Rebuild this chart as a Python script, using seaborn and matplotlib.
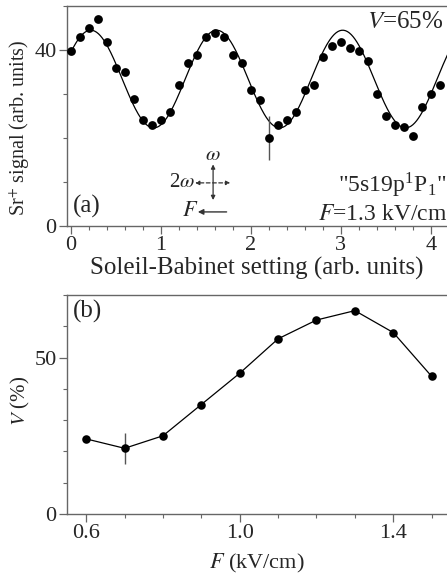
import numpy as np
import pandas as pd
import seaborn as sns
from matplotlib import pyplot as plt
from matplotlib.ticker import MultipleLocator

# panel (a): Sr+ signal vs Soleil-Babinet setting
sb_setting = [0.0, 0.1, 0.2, 0.3, 0.4, 0.5, 0.6, 0.7, 0.8, 0.9,
              1.0, 1.1, 1.2, 1.3, 1.4, 1.5, 1.6, 1.7, 1.8, 1.9,
              2.0, 2.1, 2.2, 2.3, 2.4, 2.5, 2.6, 2.7, 2.8, 2.9,
              3.0, 3.1, 3.2, 3.3, 3.4, 3.5, 3.6, 3.7, 3.8, 3.9,
              4.0, 4.1]
sr_signal = [39.8, 43.0, 44.9, 47.0, 41.9, 35.9, 34.9, 28.9, 24.0, 23.0,
             24.0, 26.0, 32.0, 37.0, 38.9, 43.0, 43.9, 43.0, 38.9, 37.0,
             30.9, 28.6, 20.0, 23.0, 24.0, 26.0, 30.9, 32.0, 38.4, 41.0,
             41.9, 40.5, 39.8, 37.4, 29.9, 25.0, 23.0, 22.4, 20.5, 27.0,
             29.9, 32.0]
err_x_a = [2.2]
err_y_a = [20.0]
err_a = [5.0]

# fitted cosine: mean, amplitude, period, phase (peak position)
fit_mean = 33.4
fit_amp = 11.1
fit_period = 1.4
fit_peak = 0.22

# panel (b): visibility vs field
field = [0.6, 0.7, 0.8, 0.9, 1.0, 1.1, 1.2, 1.3, 1.4, 1.5]
visibility = [24, 21, 25, 35, 45, 56, 62, 65, 58, 44]
err_x_b = [0.7]
err_y_b = [21]
err_b = [5.0]

sns.set_theme(style="ticks")
plt.rcParams['font.family'] = ['Liberation Serif', 'DejaVu Serif']
plt.rcParams['mathtext.fontset'] = 'stix'
plt.rcParams['xtick.direction'] = 'out'
plt.rcParams['ytick.direction'] = 'out'

spine_col = '#666666'
arrow_col = '#333333'

fig = plt.figure(figsize=(4.47, 5.8), dpi=100)
ax1 = fig.add_axes([67 / 447, 1 - 226 / 580, 1 - 67 / 447, 220 / 580])
ax2 = fig.add_axes([67 / 447, 1 - 514 / 580, 1 - 67 / 447, 219 / 580])

# ---- panel (a)
df_a = pd.DataFrame({"x": sb_setting, "y": sr_signal})
xfit = np.linspace(0, 4.2, 400)
df_fit = pd.DataFrame({"x": xfit,
                       "y": fit_mean + fit_amp * np.cos(2 * np.pi * (xfit - fit_peak) / fit_period)})
sns.lineplot(data=df_fit, x="x", y="y", ax=ax1, color="black", linewidth=0.9)
ax1.errorbar(err_x_a, err_y_a, yerr=err_a, fmt="none", ecolor="#555555", elinewidth=1.0, capsize=0)
sns.scatterplot(data=df_a, x="x", y="y", ax=ax1, color="black", s=40, edgecolor="black", linewidth=0, zorder=3)

ax1.set_xlim(-0.044, 4.18)
ax1.set_ylim(0, 50)
ax1.set_xticks([0, 1, 2, 3, 4])
ax1.xaxis.set_minor_locator(MultipleLocator(0.2))
ax1.set_yticks([0, 40])
ax1.yaxis.set_minor_locator(MultipleLocator(10))
ax1.set_xlabel("Soleil-Babinet setting (arb. units)", fontsize=18, labelpad=1)
ax1.set_ylabel("Sr$^{+}$ signal (arb. units)", fontsize=14.5)
ax1.yaxis.set_label_coords(-0.092, 0.445)

ax1.text(0.99, 0.975, "$V$=65%", transform=ax1.transAxes, ha="right", va="top", fontsize=18)
ax1.text(0.015, 0.09, "(a)", transform=ax1.transAxes, ha="left", va="center", fontsize=18)
ax1.text(1.0, 0.185, "\"5s19p$^{\\mathregular{1}}$P$_{\\mathregular{1}}$\"", transform=ax1.transAxes,
         ha="right", va="center", fontsize=17)
ax1.text(1.0, 0.05, "$F$=1.3 kV/cm", transform=ax1.transAxes, ha="right", va="center", fontsize=17)

# polarization sketch
ax1.text(1.58, 16.0, r"$\omega$", ha="center", va="center", fontsize=15)
ax1.text(1.24, 9.8, r"2$\omega$", ha="center", va="center", fontsize=15)
ax1.text(1.33, 3.2, r"$F$", ha="center", va="center", fontsize=16)
ax1.annotate("", xy=(1.58, 14.0), xytext=(1.58, 5.9),
             arrowprops=dict(arrowstyle="<|-|>", color=arrow_col, lw=0.9,
                             mutation_scale=6, shrinkA=0, shrinkB=0))
ax1.annotate("", xy=(1.38, 9.8), xytext=(1.77, 9.8),
             arrowprops=dict(arrowstyle="<|-|>", color=arrow_col, lw=0.9, ls=(0, (3, 2)),
                             mutation_scale=6, shrinkA=0, shrinkB=0))
ax1.annotate("", xy=(1.41, 3.2), xytext=(1.73, 3.2),
             arrowprops=dict(arrowstyle="-|>", color=arrow_col, lw=1.0,
                             mutation_scale=8, shrinkA=0, shrinkB=0))

# ---- panel (b)
df_b = pd.DataFrame({"F": field, "V": visibility})
sns.lineplot(data=df_b, x="F", y="V", ax=ax2, color="black", linewidth=0.9)
ax2.errorbar(err_x_b, err_y_b, yerr=err_b, fmt="none", ecolor="#555555", elinewidth=1.0, capsize=0)
sns.scatterplot(data=df_b, x="F", y="V", ax=ax2, color="black", s=38, edgecolor="black", linewidth=0, zorder=3)

ax2.set_xlim(0.55, 1.54)
ax2.set_ylim(0, 70)
ax2.set_xticks([0.6, 1.0, 1.4])
ax2.set_xticklabels(["0.6", "1.0", "1.4"])
ax2.xaxis.set_minor_locator(MultipleLocator(0.1))
ax2.set_yticks([0, 50])
ax2.yaxis.set_minor_locator(MultipleLocator(10))
ax2.set_xlabel("$F$ (kV/cm)", fontsize=16, labelpad=6)
ax2.set_ylabel("$V$ (%)", fontsize=15)
ax2.yaxis.set_label_coords(-0.092, 0.516)
ax2.text(0.015, 0.925, "(b)", transform=ax2.transAxes, ha="left", va="center", fontsize=18)

for ax in (ax1, ax2):
    ax.spines["right"].set_visible(False)
    for s in ("left", "bottom", "top"):
        ax.spines[s].set_color(spine_col)
        ax.spines[s].set_linewidth(1.0)
    ax.tick_params(which="major", length=5.5, width=0.9, color=spine_col, labelsize=16, pad=2)
    ax.tick_params(which="minor", length=3, width=0.8, color=spine_col)
    ax.tick_params(top=False, right=False, which="both")

fig.savefig("out.png", dpi=100)
